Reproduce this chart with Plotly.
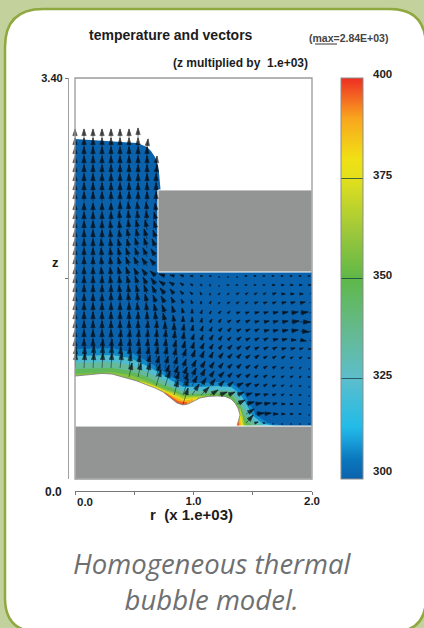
import plotly.graph_objects as go
from plotly.colors import sample_colorscale
import math

# ---- colour scale of temperature (300..400)
scale_stops = [0, .05, .1, .13, .25, .37, .5, .62, .75, .8, .9, 1]
scale_colors = ["#0b62ac", "#0a78bd", "#1ba3dc", "#22bbe8", "#5cbecb", "#65b98f",
                "#5fb848", "#9fc83a", "#e3e01c", "#f0e015", "#f9a51e", "#ee2d24"]
colorscale = [[s, c] for s, c in zip(scale_stops, scale_colors)]
bar_ticks = [300, 325, 350, 375, 400]

# ---- geometry (r, z)
fluid_r = [0, .211, .523, .608, .641, .675, .700, .709, .722, .700, .700, 2, 2, 0]
fluid_z = [2.883, 2.870, 2.849, 2.815, 2.781, 2.731, 2.663, 2.595, 2.451, 2.451, 1.755, 1.755, .449, .449]
surface_r = [0, .076, .152, .228, .312, .380, .439, .523, .608, .675, .743, .785, .819, .861, .912, .954,
             1.004, 1.055, 1.123, 1.198, 1.266, 1.317, 1.350, 1.376, 1.393, 1.376, 1.367]
surface_z = [.873, .882, .890, .895, .890, .873, .856, .831, .797, .772, .738, .704, .670, .644, .628, .636,
             .661, .687, .700, .704, .700, .678, .644, .602, .543, .492, .449]
block_r = [.700, 2, 2, .700, .700]
block_z = [1.755, 1.755, 2.451, 2.451, 1.755]
floor_r = [0, 2, 2, 0, 0]
floor_z = [0, 0, .449, .449, 0]

# ---- isotherms
levels = [307, 322, 335, 347, 358, 366, 378, 388, 396]
iso_r = [
 [0, .312, .464, .608, .743, .819, .912, 1.055, 1.198, 1.317, 1.418, 1.477, 1.528, 1.629, 1.772, 1.772, 0],
 [0, .312, .464, .608, .743, .819, .912, 1.055, 1.198, 1.317, 1.393, 1.452, 1.494, 1.578, 1.688, 1.688, 0],
 [0, .312, .464, .608, .743, .819, .912, 1.055, 1.198, 1.317, 1.376, 1.426, 1.460, 1.511, 1.578, 1.578, 0],
 [0, .312, .464, .608, .743, .819, .912, 1.055, 1.198, 1.317, 1.359, 1.401, 1.426, 1.460, 1.494, 1.494, 0],
 [0, .312, .464, .608, .743, .819, .912, 1.055, 1.198, 1.317, 1.376, 1.410, 1.426, 1.443, 1.443, 0],
 [.380, .608, .743, .819, .912, .987, 1.097, 1.097, .380, None, 1.393, 1.418, 1.426, 1.350],
 [.548, .675, .768, .819, .912, .971, 1.030, 1.030, .548, None, 1.393, 1.410, 1.418, 1.342],
 [.717, .819, .912, .962, .996, .996, .717, None, 1.393, 1.401, 1.342],
 [.760, .819, .869, .912, .945, .945, .760, None, 1.384, 1.388, 1.350],
]
iso_z = [
 [1.102, 1.111, 1.077, 1.001, .916, .865, .814, .814, .823, .814, .738, .628, .543, .475, .449, .449, .449],
 [1.043, 1.052, 1.026, .958, .882, .831, .780, .780, .789, .780, .721, .628, .543, .475, .449, .449, .449],
 [.984, .992, .967, .907, .840, .789, .746, .746, .755, .746, .687, .619, .543, .483, .449, .449, .449],
 [.933, .941, .916, .865, .797, .771, .721, .721, .729, .712, .661, .611, .543, .483, .449, .449, .449],
 [.890, .907, .882, .831, .772, .746, .708, .704, .712, .687, .619, .543, .483, .449, .449, .449],
 [.865, .814, .755, .738, .695, .700, .700, .5, .5, None, .602, .517, .449, .449],
 [.831, .789, .745, .721, .678, .683, .691, .5, .5, None, .568, .500, .449, .449],
 [.755, .708, .666, .670, .680, .5, .5, None, .517, .449, .449],
 [.735, .691, .661, .653, .653, .5, .5, None, .483, .449, .449],
]

# ---- velocity field
_ = None
grid_r = [0, .076, .152, .228, .304, .380, .456, .532, .608, .684, .760, .836, .912, .988, 1.064, 1.140,
          1.216, 1.292, 1.368, 1.444, 1.520, 1.596, 1.672, 1.748, 1.824, 1.900, 1.976]
upper_z = [2.883, 2.807, 2.731, 2.654, 2.578, 2.502, 2.425, 2.349, 2.264, 2.188, 2.112, 2.035, 1.959, 1.883, 1.806]
upper_u = [
 [0, 0, 0, 0, 0, 0, 0, 0, _, _],
 [0, 0, 0, 0, 0, 0, 0, 0, 1, _],
 [0, 0, 0, 0, 0, 0, 0, 0, 0, _],
 [0, 0, 0, 0, 0, 0, 0, 0, 0, 1],
 [0, 0, 0, 0, 0, 0, 0, 0, 0, 1],
 [0, 0, 0, 0, 0, 0, 0, 0, 0, 0],
 [0, 0, 0, 0, 0, 0, 0, 0, 0, 0],
 [0, 0, 0, 0, 0, 0, 0, 0, 0, 0],
 [0, 0, 0, 0, 0, 0, -1, -1, -1, -1],
 [0, 0, 0, 0, 0, -1, -1, -1, -1, -2],
 [0, 0, 0, 0, -1, -1, -1, -2, -2, -2],
 [0, 0, 0, 0, -1, -1, -2, -2, -3, -3],
 [0, 0, 0, -1, -1, -2, -2, -3, -3, -4],
 [0, 0, 0, -1, -1, -2, -3, -3, -4, -5],
 [0, 0, 0, -1, -1, -2, -3, -4, -5, -6],
]
upper_v = [
 [10, 10, 10, 10, 10, 10, 10, 11, _, _],
 [10, 10, 10, 10, 10, 10, 10, 10, 9, _],
 [10, 10, 10, 10, 10, 10, 10, 10, 10, _],
 [10, 10, 10, 10, 10, 10, 10, 10, 10, 10],
 [10, 10, 10, 10, 10, 10, 10, 10, 10, 10],
 [10, 10, 10, 10, 10, 10, 10, 10, 10, 10],
 [10, 10, 10, 10, 10, 10, 10, 10, 10, 10],
 [10, 10, 10, 10, 10, 10, 10, 10, 10, 10],
 [9, 9, 9, 9, 9, 10, 10, 10, 10, 9],
 [9, 9, 9, 9, 9, 10, 10, 10, 10, 9],
 [9, 9, 9, 9, 9, 9, 10, 10, 10, 9],
 [9, 9, 9, 9, 9, 9, 10, 10, 10, 9],
 [9, 9, 9, 9, 9, 9, 9, 10, 10, 9],
 [9, 9, 9, 9, 9, 9, 9, 9, 9, 8],
 [9, 9, 9, 9, 9, 9, 9, 9, 8, 7],
]
lower_z = [1.721, 1.645, 1.569, 1.492, 1.408, 1.331, 1.255, 1.179, 1.102, 1.026, .941, .865, .789, .712, .636, .551, .475]
lower_u = [
 [0, 0, 0, -1, -1, -2, -3, -4, -5, -6, -6, -4, -3, -2, -1, -1, 0, 0, 0, 1, 1, 1, 1, 1, 1, 1, 1],
 [0, 0, 0, 0, -1, -1, -2, -3, -4, -5, -6, -5, -3, -2, -1, 0, 0, 1, 1, 1, 1, 1, 2, 2, 2, 2, 2],
 [0, 0, 0, 0, 0, -1, -1, -2, -3, -4, -5, -4, -3, -2, -1, 0, 1, 1, 2, 2, 2, 2, 3, 3, 3, 3, 3],
 [0, 0, 0, 0, 0, 0, -1, -1, -2, -3, -4, -3, -2, -1, 0, 1, 1, 2, 2, 2, 3, 3, 3, 4, 4, 5, 5],
 [0, 0, 0, 0, 0, 0, 0, -1, -1, -2, -3, -2, -1, 0, 1, 1, 2, 2, 3, 3, 4, 4, 5, 6, 7, 8, 7],
 [0, 0, 0, 0, 0, 0, 0, 0, 0, -1, -2, -1, 0, 0, 1, 2, 2, 3, 3, 4, 4, 5, 5, 6, 8, 10, 9],
 [0, 0, 0, 0, 0, 0, 0, 0, 1, 1, 0, 0, 1, 1, 2, 2, 3, 3, 4, 4, 4, 5, 5, 6, 7, 9, 9],
 [0, 0, 0, 0, 0, 1, 1, 1, 1, 1, 1, 1, 1, 2, 2, 3, 3, 3, 4, 4, 4, 4, 5, 5, 5, 6, 6],
 [0, 0, 0, 1, 1, 1, 1, 1, 1, 1, 1, 2, 2, 2, 3, 3, 3, 4, 4, 4, 4, 4, 4, 4, 4, 3, 2],
 [1, 1, 1, 1, 1, 1, 1, 2, 2, 2, 2, 2, 3, 3, 3, 3, 4, 4, 4, 4, 4, 3, 3, 3, 2, 2, 1],
 [1, 1, 1, 1, 1, 2, 2, 2, 3, 3, 3, 3, 3, 4, 4, 4, 4, 4, 4, 4, 3, 3, 3, 2, 2, 1, 0],
 [_, _, _, _, _, _, 3, 3, 3, 4, 4, 4, 4, 4, 4, 4, 5, 4, 4, 4, 3, 3, 2, 2, 2, 1, 1],
 [_, _, _, _, _, _, _, _, _, 5, 5, 5, 5, 5, 5, 5, 5, 5, 6, 5, 4, 3, 3, 2, 1, 1, 0],
 [_, _, _, _, _, _, _, _, _, _, _, 4, 5, 7, 8, 8, 8, 7, 7, 6, 5, 4, 3, 2, 1, 1, 0],
 [_, _, _, _, _, _, _, _, _, _, _, _, 5, _, _, _, _, _, 8, 8, 7, 6, 4, 3, 2, 1, 0],
 [_, _, _, _, _, _, _, _, _, _, _, _, _, _, _, _, _, _, _, 8, 9, 7, 5, 3, 2, 1, 0],
 [_, _, _, _, _, _, _, _, _, _, _, _, _, _, _, _, _, _, _, 7, 3, 1, 0, 0, 0, 0, 0],
]
lower_v = [
 [9, 9, 9, 9, 9, 9, 9, 8, 7, 5, 2, 1, 1, 0, 0, 0, 0, 0, 0, 0, 0, 0, 0, 0, 0, 0, 0],
 [9, 9, 9, 9, 9, 9, 9, 9, 8, 7, 4, 3, 2, 1, 1, 1, 0, 0, 0, 0, 0, 0, 0, 0, 0, 0, 0],
 [9, 9, 9, 9, 9, 9, 9, 9, 9, 8, 6, 5, 3, 2, 2, 1, 1, 1, 1, 1, 1, 1, 1, 0, 0, 0, 1],
 [9, 9, 9, 9, 10, 10, 10, 10, 9, 8, 7, 6, 4, 3, 2, 2, 1, 1, 1, 1, 1, 1, 1, 1, 1, 1, 2],
 [10, 10, 10, 10, 10, 10, 10, 10, 10, 9, 8, 7, 5, 4, 3, 2, 2, 2, 1, 1, 1, 1, 1, 1, 1, 1, 2],
 [10, 10, 10, 10, 10, 10, 10, 10, 10, 10, 9, 7, 6, 5, 4, 3, 3, 2, 2, 2, 1, 1, 1, 1, 1, 0, 0],
 [10, 10, 10, 10, 10, 10, 10, 10, 10, 10, 9, 8, 7, 6, 5, 4, 3, 3, 2, 2, 2, 1, 1, 1, 1, -1, -2],
 [10, 10, 10, 10, 10, 10, 10, 10, 10, 10, 10, 9, 8, 6, 5, 5, 4, 3, 3, 2, 2, 2, 1, 1, 0, -1, -3],
 [10, 10, 10, 10, 10, 10, 10, 10, 10, 10, 10, 9, 8, 7, 6, 5, 4, 4, 3, 3, 2, 2, 2, 1, 1, 1, 0],
 [11, 11, 12, 12, 12, 11, 11, 11, 11, 11, 11, 10, 9, 8, 7, 6, 5, 4, 4, 3, 3, 2, 2, 2, 1, 1, 0],
 [15, 15, 15, 15, 15, 15, 14, 13, 13, 12, 12, 11, 9, 8, 7, 6, 5, 4, 4, 3, 3, 2, 2, 1, 1, 1, 0],
 [_, _, _, _, _, _, 14, 14, 14, 13, 12, 11, 10, 9, 8, 6, 5, 4, 3, 3, 2, 2, 1, 1, 1, 1, 0],
 [_, _, _, _, _, _, _, _, _, 16, 15, 14, 13, 10, 8, 7, 5, 4, 3, 3, 2, 2, 1, 1, 1, 0, 0],
 [_, _, _, _, _, _, _, _, _, _, _, 15, 16, 11, 8, 5, 3, 3, 3, 2, 1, 1, 1, 1, 0, 0, 0],
 [_, _, _, _, _, _, _, _, _, _, _, _, 16, _, _, _, _, _, 4, 2, 1, 1, 1, 0, 0, 0, 0],
 [_, _, _, _, _, _, _, _, _, _, _, _, _, _, _, _, _, _, _, 5, 1, 1, 0, 0, 0, 0, 0],
 [_, _, _, _, _, _, _, _, _, _, _, _, _, _, _, _, _, _, _, 8, 1, 0, 0, 0, 0, 0, 0],
]
velocity_unit = .0085

# ---- texts
y_tick_vals = [1.7, 3.4]
y_tick_text = ["", "3.40"]
x_tick_vals = [0, .5, 1, 1.5, 2]
x_tick_text = ["", "", "1.0", "", "2.0"]

W, H = 424, 628
X = lambda px: px / W
Y = lambda py: 1 - py / H
ARIAL = "Liberation Sans"

fig = go.Figure()
common = dict(mode="lines", hoverinfo="skip", showlegend=False)
base = sample_colorscale(colorscale, [0])[0]
fig.add_trace(go.Scatter(x=fluid_r, y=fluid_z, fill="toself", fillcolor=base, line=dict(width=0), **common))
for lev, rr, zz in zip(levels, iso_r, iso_z):
    c = sample_colorscale(colorscale, [(lev - 300) / 100])[0]
    fig.add_trace(go.Scatter(x=rr, y=zz, fill="toself", fillcolor=c, line=dict(width=0), **common))
fig.add_trace(go.Scatter(x=surface_r + [0], y=surface_z + [surface_z[-1]], fill="toself", fillcolor="white",
                         line=dict(width=0), **common))
fig.add_trace(go.Scatter(x=surface_r, y=surface_z, line=dict(color="#777", width=.8), **common))
for rr, zz in ((block_r, block_z), (floor_r, floor_z)):
    fig.add_trace(go.Scatter(x=rr, y=zz, fill="toself", fillcolor="#939595",
                             line=dict(color="white", width=1), **common))

sx, sy, hx, hy, ang, size = [], [], [], [], [], []
for zs, us, vs in ((upper_z, upper_u, upper_v), (lower_z, lower_u, lower_v)):
    for z0, ur, vr in zip(zs, us, vs):
        for r0, u, v in zip(grid_r, ur, vr):
            if u is None:
                continue
            mag = math.hypot(u, v)
            tx, ty = r0 + u * velocity_unit, z0 + v * velocity_unit
            sx += [r0, tx, None]
            sy += [z0, ty, None]
            hx.append(tx)
            hy.append(ty)
            ang.append(math.degrees(math.atan2(u, v)))
            size.append(min(7, 1.5 + .7 * mag))
fig.add_trace(go.Scatter(x=sx, y=sy, cliponaxis=False, line=dict(color="#050505", width=.45), **common))
fig.add_trace(go.Scatter(x=hx, y=hy, mode="markers", cliponaxis=False, hoverinfo="skip", showlegend=False,
                         marker=dict(symbol="arrow", color="#050505", size=size, angle=ang,
                                     line=dict(width=.7, color="#050505"))))
# colour bar
fig.add_trace(go.Scatter(x=[None, None], y=[None, None], mode="markers", hoverinfo="skip", showlegend=False,
    marker=dict(color=[300, 400], cmin=300, cmax=400, colorscale=colorscale, showscale=True,
        colorbar=dict(x=X(341), xanchor="left", y=Y(479), yanchor="bottom", len=401 / H, lenmode="fraction",
                      thickness=22, thicknessmode="pixels", xpad=0, ypad=0, outlinecolor="#8c8c8c", outlinewidth=1,
                      borderwidth=0, tickvals=bar_ticks, ticks="inside", ticklen=22, tickwidth=1,
                      tickcolor="rgba(20,60,60,.75)", showticklabels=False))))

card = (f"M {X(5)} {Y(47)} Q {X(5)} {Y(9)} {X(43)} {Y(9)} L {X(390)} {Y(9)} Q {X(426)} {Y(9)} {X(426)} {Y(47)} "
        f"L {X(426)} {Y(598)} Q {X(426)} {Y(632)} {X(392)} {Y(632)} L {X(39)} {Y(632)} Q {X(5)} {Y(632)} {X(5)} {Y(598)} Z")
shapes = [
    dict(type="path", xref="paper", yref="paper", path=card, fillcolor="white",
         line=dict(color="#8fa83f", width=2.5), layer="below"),
    dict(type="rect", xref="paper", yref="paper", x0=X(75), x1=X(312), y0=Y(479), y1=Y(78),
         line=dict(color="#9a9a9a", width=1.3), layer="above"),
    dict(type="line", xref="paper", yref="paper", x0=X(315), x1=X(337), y0=Y(44), y1=Y(44),
         line=dict(color="#333", width=1), layer="above"),
]
def note(txt, px, py, size, weight="normal", color="#1c1c1c", family=ARIAL, style="normal"):
    return dict(text=txt, x=X(px), y=Y(py), xref="paper", yref="paper", showarrow=False, xanchor="center",
                yanchor="middle", font=dict(family=family, size=size, color=color, weight=weight, style=style))
annotations = [
    note("temperature and vectors", 171, 35, 14, "bold"),
    note("(max=2.84E+03)", 348, 38, 10.5, "bold", "#444"),
    note("(z multiplied by  1.e+03)", 240, 63, 12, "bold"),
    note("z", 55, 262, 13, "bold"),
    note("0.0", 53, 492, 12, "bold"),
    note("0.0", 85, 502, 11.5, "bold"),
    note("r  (x 1.e+03)", 191.5, 514, 15, "bold"),
    note("Homogeneous thermal<br>bubble model.", 212, 581.5, 27.5, "normal", "#6e6f71", "Open Sans", "italic"),
]
for tick, py in zip(bar_ticks, [471, 375, 275, 175, 74]):
    annotations.append(note(str(tick), 382.5, py, 11.5, "bold", "#222"))
fig.update_layout(
    width=W, height=H, margin=dict(l=0, r=0, t=0, b=0, autoexpand=False), autosize=False,
    paper_bgcolor="#c3d19d", plot_bgcolor="white", showlegend=False, shapes=shapes, annotations=annotations,
    xaxis=dict(domain=[X(75), X(312)], range=[0, 2], anchor="free", position=Y(490.5), side="bottom", showgrid=False,
               zeroline=False, showline=True, linecolor="#777", linewidth=1, ticks="outside", ticklen=3, tickcolor="#777",
               tickvals=x_tick_vals, ticktext=x_tick_text, ticklabelstandoff=-3,
               tickfont=dict(family=ARIAL, size=11.5, color="#1c1c1c", weight="bold")),
    yaxis=dict(domain=[Y(479), Y(78)], range=[0, 3.4], anchor="free", position=X(68), side="left", showgrid=False,
               zeroline=False, showline=True, linecolor="#a0a0a0", linewidth=1.3, ticks="outside", ticklen=3, tickcolor="#777",
               tickvals=y_tick_vals, ticktext=y_tick_text,
               tickfont=dict(family=ARIAL, size=11, color="#1c1c1c", weight="bold")),
)
fig.write_html("out.html", config=dict(displayModeBar=False),
               post_script="document.body.style.margin='0';document.documentElement.style.overflow='hidden';")
